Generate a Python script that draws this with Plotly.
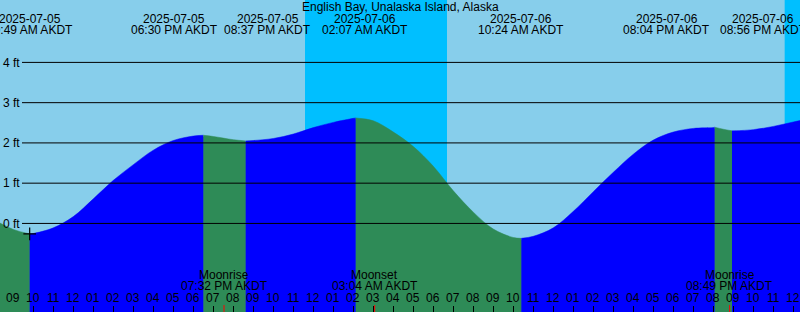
import pandas as pd
import plotly.graph_objects as go

# ---------------- data ----------------
title_text = "English Bay, Unalaska Island, Alaska"

hour_times = [
    "2025-07-05 08:00", "2025-07-05 09:00", "2025-07-05 10:00", "2025-07-05 11:00",
    "2025-07-05 12:00", "2025-07-05 13:00", "2025-07-05 14:00", "2025-07-05 15:00",
    "2025-07-05 16:00", "2025-07-05 17:00", "2025-07-05 18:00", "2025-07-05 19:00",
    "2025-07-05 20:00", "2025-07-05 21:00", "2025-07-05 22:00", "2025-07-05 23:00",
    "2025-07-06 00:00", "2025-07-06 01:00", "2025-07-06 02:00", "2025-07-06 03:00",
    "2025-07-06 04:00", "2025-07-06 05:00", "2025-07-06 06:00", "2025-07-06 07:00",
    "2025-07-06 08:00", "2025-07-06 09:00", "2025-07-06 10:00", "2025-07-06 11:00",
    "2025-07-06 12:00", "2025-07-06 13:00", "2025-07-06 14:00", "2025-07-06 15:00",
    "2025-07-06 16:00", "2025-07-06 17:00", "2025-07-06 18:00", "2025-07-06 19:00",
    "2025-07-06 20:00", "2025-07-06 20:30", "2025-07-06 21:00", "2025-07-06 22:00",
    "2025-07-06 23:00", "2025-07-07 00:00", "2025-07-07 01:00",
]
hour_heights = [
    0.10, -0.15, -0.25, -0.11,
    0.17, 0.61, 1.07, 1.46,
    1.82, 2.06, 2.17, 2.16,
    2.08, 2.06, 2.11, 2.22,
    2.38, 2.51, 2.61, 2.55,
    2.27, 1.91, 1.42, 0.81,
    0.28, -0.14, -0.35, -0.32,
    -0.11, 0.30, 0.79, 1.27,
    1.72, 2.07, 2.27, 2.36,
    2.38, 2.34, 2.30, 2.33,
    2.41, 2.52, 2.62,
]

extreme_times = [
    "2025-07-05 09:49", "2025-07-05 18:30", "2025-07-05 20:37", "2025-07-06 02:07",
    "2025-07-06 10:24", "2025-07-06 20:04", "2025-07-06 20:56",
]
extreme_heights = [-0.26, 2.19, 2.05, 2.62, -0.37, 2.39, 2.30]

moon_times = ["2025-07-05 19:32", "2025-07-06 03:04", "2025-07-06 20:49"]
moon_events = ["Moonrise", "Moonset", "Moonrise"]

sunset_times = ["2025-07-05 23:35", "2025-07-06 23:34"]
sunrise_times = ["2025-07-06 06:41", "2025-07-07 06:42"]

y_tick_vals = [0, 1, 2, 3, 4]
y_tick_text = ["0 ft", "1 ft", "2 ft", "3 ft", "4 ft"]

view_start = "2025-07-05 08:20"
view_end = "2025-07-07 00:20"

# ---------------- styling ----------------
W, H = 800, 312
FONT = "Liberation Sans"
SKY = "#87CEEB"
NIGHT = "#00BFFF"
RISE = "#0000FF"
FALL = "#2E8B57"
Y_MIN, Y_MAX = -2.20, 5.55
BASE = -3.0
label_shift_px = [0, -29, 22, 9, 0, -48, 31]

# ---------------- build ----------------
pts = pd.DataFrame({
    "t": pd.to_datetime(hour_times + extreme_times),
    "h": hour_heights + extreme_heights,
}).sort_values("t").drop_duplicates("t").reset_index(drop=True)

ext_t = pd.to_datetime(extreme_times)
bounds = [pts["t"].iloc[0]] + list(ext_t) + [pts["t"].iloc[-1]]

fig = go.Figure()
for i in range(len(bounds) - 1):
    a, b = bounds[i], bounds[i + 1]
    seg = pts[(pts["t"] >= a) & (pts["t"] <= b)]
    rising = seg["h"].iloc[-1] > seg["h"].iloc[0]
    col = RISE if rising else FALL
    fig.add_trace(go.Scatter(x=[a, b], y=[BASE, BASE], mode="lines",
                             line=dict(width=0, color=col), hoverinfo="skip",
                             showlegend=False))
    fig.add_trace(go.Scatter(x=seg["t"], y=seg["h"], mode="lines",
                             line=dict(width=0.5, color=col, shape="spline"),
                             fill="tonexty", fillcolor=col, hoverinfo="skip",
                             showlegend=False))
    # thin seam cover at the right boundary of each segment
    if i < len(bounds) - 2:
        hb = float(seg["h"].iloc[-1])
        fig.add_trace(go.Scatter(x=[b, b], y=[BASE, hb - 0.03], mode="lines",
                                 line=dict(width=1, color=col), hoverinfo="skip",
                                 showlegend=False))

# marker at first low tide
fig.add_trace(go.Scatter(x=[ext_t[0]], y=[extreme_heights[0]], mode="markers",
                         marker=dict(symbol="cross-thin", size=9,
                                     line=dict(width=1.2, color="black")),
                         hoverinfo="skip", showlegend=False))

shapes = []
for s, r in zip(sunset_times, sunrise_times):
    shapes.append(dict(type="rect", xref="x", yref="paper", x0=s, x1=r, y0=0, y1=1,
                       fillcolor=NIGHT, line=dict(width=0), layer="below"))
for v in y_tick_vals:
    shapes.append(dict(type="line", xref="paper", yref="y", x0=22 / W, x1=1, y0=v, y1=v,
                       line=dict(color="black", width=1), layer="above"))
for mt in moon_times:
    shapes.append(dict(type="line", xref="x", yref="paper", x0=mt, x1=mt, y0=0, y1=7 / H,
                       line=dict(color="red", width=1), layer="above"))

ann = []
def py(pix):
    return 1 - pix / H

lab_font = dict(family=FONT, size=12, color="black")
ann.append(dict(text=title_text, x=0.5, xref="paper", y=py(7), yref="paper",
                showarrow=False, xanchor="center", yanchor="middle", font=lab_font))
for t, sh in zip(ext_t, label_shift_px):
    ann.append(dict(text=t.strftime("%Y-%m-%d"), x=t, xref="x", y=py(18.5), yref="paper",
                    xshift=sh, showarrow=False, xanchor="center", yanchor="middle",
                    font=lab_font))
    ann.append(dict(text=t.strftime("%I:%M %p AKDT"), x=t, xref="x", y=py(30.5), yref="paper",
                    xshift=sh, showarrow=False, xanchor="center", yanchor="middle",
                    font=lab_font))
for t, ev in zip(pd.to_datetime(moon_times), moon_events):
    ann.append(dict(text=ev, x=t, xref="x", y=py(274.5), yref="paper",
                    showarrow=False, xanchor="center", yanchor="middle", font=lab_font))
    ann.append(dict(text=t.strftime("%I:%M %p AKDT"), x=t, xref="x", y=py(285.5), yref="paper",
                    showarrow=False, xanchor="center", yanchor="middle", font=lab_font))

# hour labels along the bottom (one per hour tick)
hour_ticks = pd.date_range("2025-07-05 09:00", "2025-07-07 00:00", freq="h")
for t in hour_ticks:
    ann.append(dict(text=t.strftime("%I"), x=t, xref="x", y=py(297.5), yref="paper",
                    showarrow=False, xanchor="center", yanchor="middle", font=lab_font))

fig.update_layout(
    width=W, height=H, margin=dict(l=0, r=0, t=0, b=0),
    paper_bgcolor=SKY, plot_bgcolor=SKY, showlegend=False,
    shapes=shapes, annotations=ann,
    xaxis=dict(type="date", range=[view_start, view_end], showgrid=False, zeroline=False,
               showline=False, ticks="inside", ticklen=6, tickwidth=1, tickcolor="black",
               tick0="2025-07-05 00:00", dtick=3600000, showticklabels=False,
               fixedrange=True),
    xaxis2=dict(type="date", range=[view_start, view_end], overlaying="x", anchor="y",
                side="bottom", showgrid=False, zeroline=False, showline=False,
                ticks="inside", ticklen=7, tickwidth=3, tickcolor="black",
                tick0="2025-07-05 00:00", dtick=86400000, showticklabels=False),
    yaxis=dict(range=[Y_MIN, Y_MAX], showgrid=False, zeroline=False, showline=False,
               tickvals=y_tick_vals, ticktext=y_tick_text, ticks="",
               ticklabelposition="inside",
               tickfont=dict(family=FONT, size=12, color="black"), fixedrange=True),
)

fig.write_html("out.html")
